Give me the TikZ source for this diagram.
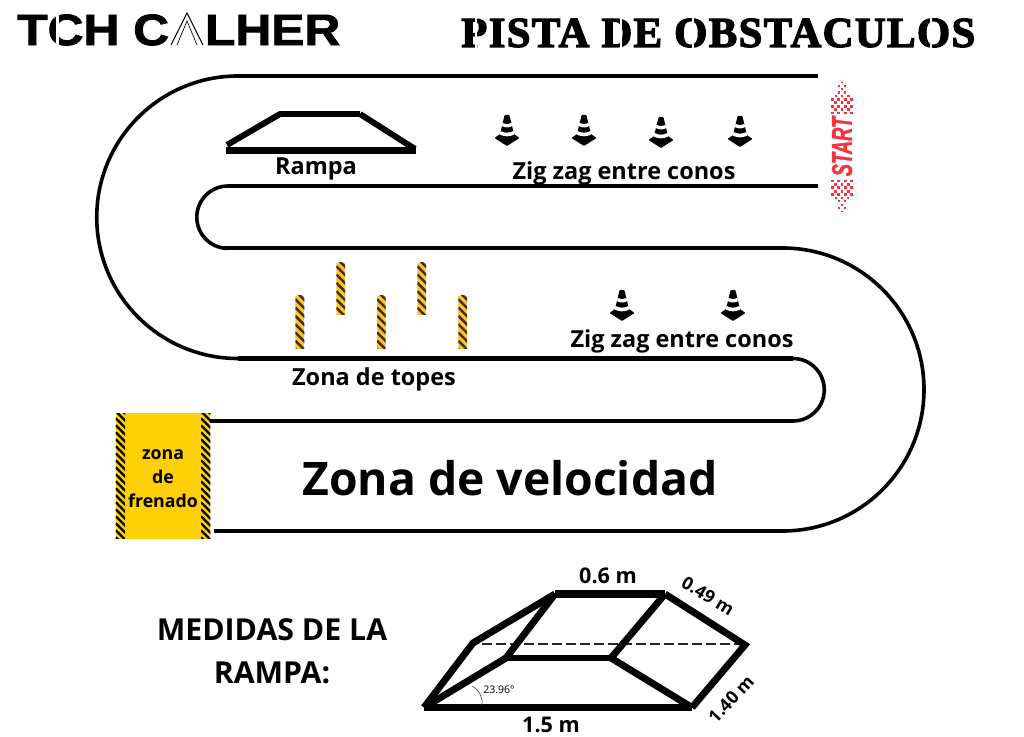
\documentclass[tikz,border=0pt]{standalone}
\usepackage{fontspec}
\setmainfont{Open Sans}
\newfontfamily\titlefont[FakeBold=1.6]{Liberation Sans Bold}
\newfontfamily\stencilfont[FakeBold=3,LetterSpace=3.3]{Liberation Serif Bold}
\newfontfamily\startfont[FakeBold=1.5]{Liberation Sans Bold Italic}
\definecolor{brake}{HTML}{FFD005}
\definecolor{stripeY}{HTML}{FDC52B}
\definecolor{stripeD}{HTML}{46301C}
\definecolor{startred}{HTML}{F5333F}
\tikzset{
  x=0.75pt,y=-0.75pt,
  track/.style={draw=black,line width=3.4pt,line cap=butt},
  curveline/.style={draw=black,line width=2.7pt,line cap=butt},
  ramp/.style={draw=black,line width=5pt,line cap=butt,line join=miter},
  rampthin/.style={draw=black,line width=4.5pt,line cap=butt,line join=miter},
  bigramp/.style={draw=black,line width=5.2pt,line cap=butt,line join=miter},
  cut/.style={draw=white,line width=1.3pt,line cap=butt},
  lbl/.style={font=\bfseries\fontsize{17.6}{21}\selectfont,inner sep=0pt},
  dim/.style={font=\bfseries\fontsize{16.2}{19}\selectfont,inner sep=0pt},
  cone/.pic={
    \fill[black,rounded corners=0.6pt] (-12.5,0) -- (-7,-4) -- (-2.4,-23) -- (2.4,-23) -- (7,-4) -- (12.5,0) -- (0,8) -- cycle;
    \fill[white] (-4.4,-15) .. controls (-1.5,-13.4) and (1.5,-13.4) .. (4.4,-15) -- (5.2,-12) .. controls (2,-10) and (-2,-10) .. (-5.2,-12) -- cycle;
    \fill[white] (-6.4,-7) .. controls (-2.5,-4.8) and (2.5,-4.8) .. (6.4,-7) -- (7.4,-3.6) .. controls (3,-1) and (-3,-1) .. (-7.4,-3.6) -- cycle;
  }
}
\newcommand{\hazard}[8]{%
  \begin{scope}
    \clip (#1,#2) rectangle (#3,#4);
    \fill[#5] (#1,#2) rectangle (#3,#4);
    \pgfmathsetmacro{\hzstart}{#2-30}
    \pgfmathsetmacro{\hznext}{#2-30+#7}
    \pgfmathsetmacro{\hzend}{#4+10}
    \foreach \yy in {\hzstart,\hznext,...,\hzend}{
      \draw[#6,line width=#8] (#1,\yy) -- ++(30,30);
    }
  \end{scope}
}
\begin{document}
\begin{tikzpicture}
\useasboundingbox (0,0) rectangle (1024,737);
\fill[white] (0,0) rectangle (1024,737);

% titles
\node[anchor=west,inner sep=0pt,font=\titlefont\fontsize{33}{36}\selectfont] (brand) at (17,30) {\scalebox{1.13}[1]{TCH C\textcolor{white}{A}LHER}};
\draw[cut,line width=1.6pt] (57.5,12) -- (57.5,47);
\draw[black,line width=0.7pt,line join=miter] (171,45) -- (187,13) -- (203,45);
\draw[black,line width=0.5pt,line join=miter] (177,45) -- (187,21) -- (197,45);
\node[anchor=west,inner sep=0pt,font=\stencilfont\fontsize{32}{36}\selectfont] (title) at (461,33) {PISTA DE OBSTACULOS};
\foreach \cx in {476,621,693,853,931}{
  \draw[cut] (\cx,16) -- (\cx,49);
}

% track straights
\draw[track] (818,76) -- (238,76);
\draw[track] (818,186) -- (228,186);
\draw[track] (224,248) -- (783,248);
\draw[track] (238,358.5) -- (793,358.5);
\draw[track] (793,421) -- (210,421);
\draw[track] (782.5,531) -- (214,531);
% track bends
\draw[curveline] (238,76) arc[start angle=-90,end angle=-270,radius=141.25];
\draw[curveline] (228,186) arc[start angle=-90,end angle=-270,radius=31.2];
\draw[curveline] (793,358.5) arc[start angle=-90,end angle=90,radius=31.25];
\draw[curveline] (782.5,248) arc[start angle=-90,end angle=90,radius=141.5];

% small ramp
\draw[rampthin] (227,145) -- (280,114);
\draw[rampthin] (360,114) -- (415,149);
\draw[ramp] (279,114) -- (360,114);
\draw[ramp] (226,150.5) -- (416,150.5);
\node[lbl] (rampa) at (316,169) {Rampa};

% cones, upper
\pic at (507,138) {cone};
\pic at (584,138) {cone};
\pic at (661,140) {cone};
\pic at (740,139) {cone};
\node[lbl] (zig1) at (624,173) {Zig zag entre conos};
% cones, lower
\pic at (622,313) {cone};
\pic at (733,313) {cone};
\node[lbl] (zig2) at (682,341) {Zig zag entre conos};

% posts
\hazard{295.3}{296}{304.3}{349}{stripeY}{stripeD}{8.3}{1.9pt}
\hazard{336.3}{263}{345}{315}{stripeY}{stripeD}{8.3}{1.9pt}
\hazard{377}{296}{385.7}{349}{stripeY}{stripeD}{8.3}{1.9pt}
\hazard{417.3}{263}{426}{315}{stripeY}{stripeD}{8.3}{1.9pt}
\hazard{458.3}{296}{467}{349}{stripeY}{stripeD}{8.3}{1.9pt}
\node[lbl] (topes) at (374,379) {Zona de topes};

% braking zone
\fill[brake] (115.7,413.3) rectangle (210.3,538.7);
\hazard{115.7}{413.3}{125}{538.7}{brake}{black}{7}{1.7pt}
\hazard{201}{413.3}{210.3}{538.7}{brake}{black}{7}{1.7pt}
\node[inner sep=0pt,align=center,font=\bfseries\fontsize{13.3}{18}\selectfont] (frenado) at (163,479) {zona\\de\\frenado};

\node[inner sep=0pt,font=\bfseries\fontsize{34.7}{40}\selectfont] (vel) at (510,478) {Zona de velocidad};

% start banner
\foreach \i in {0,...,39}{
  \foreach \j in {0,...,6}{
    \pgfmathsetmacro{\py}{79+\i*3.4}
    \pgfmathsetmacro{\px}{842+(\j-3)*3.1}
    \pgfmathsetmacro{\dd}{min(\py-79,214-\py)}
    \pgfmathsetmacro{\hw}{min(10.5,1.5+\dd*0.42)}
    \pgfmathsetmacro{\ss}{min(2.9,0.9+\dd*0.1)}
    \pgfmathparse{and(abs(\px-842)<\hw,and(mod(\i+\j,2)==0,or(\py<113,\py>179)))?1:0}
    \ifnum\pgfmathresult=1
      \fill[startred] (\px-\ss/2,\py-\ss/2) rectangle ++(\ss,\ss);
    \fi
  }
}
\node[rotate=90,inner sep=0pt,text=startred,font=\startfont\fontsize{21.5}{22}\selectfont] (start) at (842,146.5) {\scalebox{0.64}[1]{START}};

% ramp detail
\coordinate (bl) at (424,707.5);
\coordinate (br) at (692,707.5);
\coordinate (tfl) at (506,658);
\coordinate (tfr) at (611,658);
\coordinate (tbl) at (555,594);
\coordinate (tbr) at (665,594);
\coordinate (bbl) at (473,643);
\coordinate (bbr) at (745,645);
\draw[black!85,dash pattern=on 7.5pt off 3pt,line width=0.9pt] (482,644) -- (745,644);
\draw[bigramp,line width=5.6pt] (bl) -- (br);
\draw[bigramp] (bl) -- (bbl) -- (tbl);
\draw[bigramp,line width=5.6pt] (tbl) -- (tbr);
\draw[bigramp] (tbr) -- (bbr) -- (br);
\draw[bigramp] (bl) -- (tfl);
\draw[bigramp] (tfl) -- (tfr);
\draw[bigramp] (tfr) -- (br);
\draw[bigramp] (tfl) -- (tbl);
\draw[bigramp] (tfr) -- (tbr);
\draw[black!70,line width=0.5pt] (472,686) .. controls (479,690) and (483,697) .. (482,705);
\node[inner sep=0pt,font=\fontsize{7.9}{9}\selectfont] (ang) at (499,690) {23.96°};

\node[dim] (d06) at (608,576) {0.6 m};
\node[dim,font=\bfseries\fontsize{13.3}{16}\selectfont,rotate=-31] (d049) at (708,596) {0.49 m};
\node[dim,font=\bfseries\fontsize{13.3}{16}\selectfont,rotate=47] (d14) at (731,699) {1.40 m};
\node[dim] (d15) at (551,725) {1.5 m};
\node[inner sep=0pt,align=center,font=\bfseries\fontsize{22.7}{32.5}\selectfont] (medidas) at (272,651) {MEDIDAS DE LA\\RAMPA:};
\end{tikzpicture}
\end{document}
